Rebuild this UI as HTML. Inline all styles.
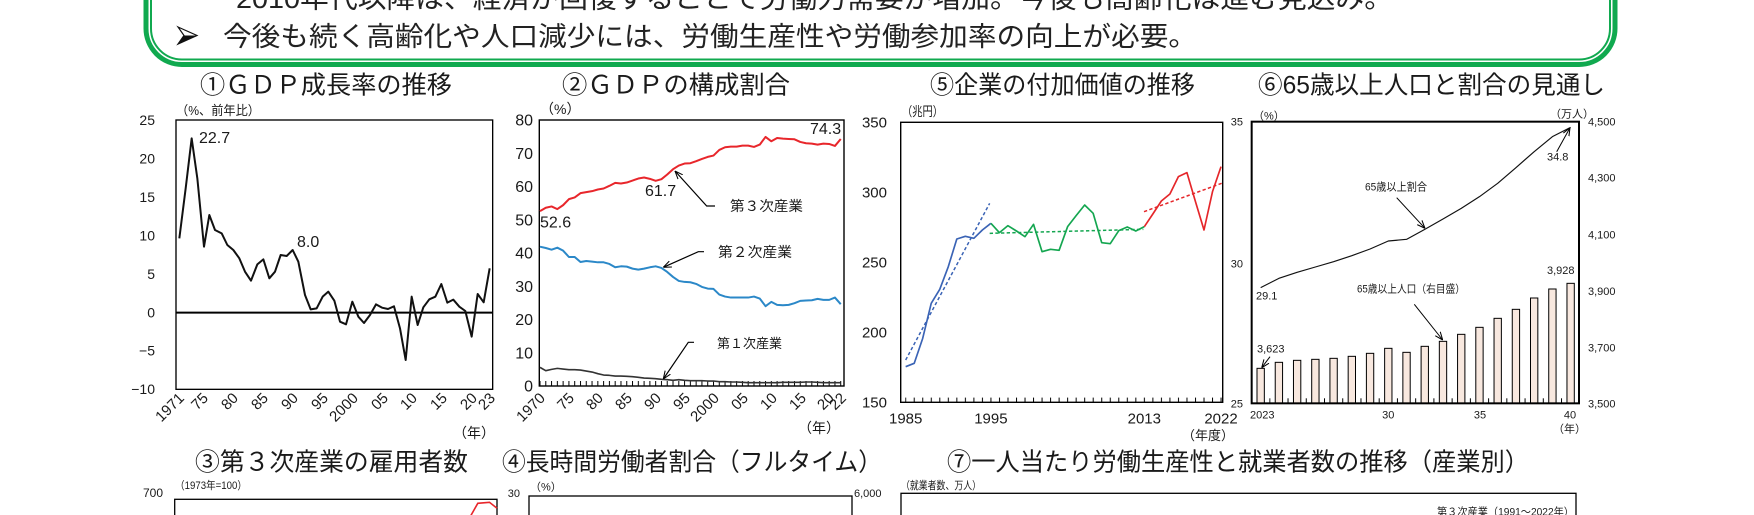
<!DOCTYPE html>
<html><head><meta charset="utf-8">
<style>
html,body{margin:0;padding:0;background:#fff;width:1754px;height:515px;overflow:hidden}
svg{display:block}
text{font-family:"Liberation Sans","Noto Sans CJK JP",sans-serif;fill:#1a1a1a}
</style></head><body>
<svg width="1754" height="515" viewBox="0 0 1754 515" xmlns="http://www.w3.org/2000/svg">
<defs>
<marker id="ah" viewBox="0 0 10 10" refX="10" refY="5" markerWidth="8" markerHeight="8" markerUnits="userSpaceOnUse" orient="auto"><path d="M0,1 L10,5 L0,9" fill="none" stroke="#000" stroke-width="1.3"/></marker>
<pattern id="tk2" x="539.5" y="0" width="5.78333" height="10" patternUnits="userSpaceOnUse"><rect x="0" y="0" width="1" height="10" fill="#000"/></pattern>
<pattern id="tk5" x="905.2" y="0" width="8.5233" height="10" patternUnits="userSpaceOnUse"><rect x="0" y="0" width="1" height="10" fill="#000"/></pattern>
<pattern id="tk6" x="1269.3" y="0" width="18.2333" height="10" patternUnits="userSpaceOnUse"><rect x="0" y="0" width="1" height="10" fill="#000"/></pattern>
</defs>

<!-- green box -->
<rect x="146" y="-100" width="1469" height="164.5" rx="36" fill="none" stroke="#10a94f" stroke-width="5"/>
<rect x="151" y="-100" width="1459" height="159.5" rx="31" fill="none" stroke="#10a94f" stroke-width="2"/>

<text x="236" y="8" font-size="27" textLength="1157" lengthAdjust="spacingAndGlyphs" style="fill:#222">2010年代以降は、経済が回復することで労働力需要が増加。今後も高齢化は進む見込み。</text>
<path d="M178,27 L197,35.5 L178,44 L184,35.5 Z" fill="#fff" stroke="#111" stroke-width="1.2"/>
<path d="M184,35.5 L197,35.5 L178,44 Z" fill="#111"/>
<text x="223" y="46" font-size="27" textLength="974" lengthAdjust="spacingAndGlyphs" style="fill:#222">今後も続く高齢化や人口減少には、労働生産性や労働参加率の向上が必要。</text>

<!-- titles -->
<text x="200" y="93.5" font-size="25" textLength="252" lengthAdjust="spacingAndGlyphs">①ＧＤＰ成長率の推移</text>
<text x="562" y="93.5" font-size="25" textLength="228" lengthAdjust="spacingAndGlyphs">②ＧＤＰの構成割合</text>
<text x="930" y="93.5" font-size="25" textLength="265" lengthAdjust="spacingAndGlyphs">⑤企業の付加価値の推移</text>
<text x="1258" y="93.5" font-size="25" textLength="347" lengthAdjust="spacingAndGlyphs">⑥65歳以上人口と割合の見通し</text>
<text x="195" y="470.5" font-size="25" textLength="273" lengthAdjust="spacingAndGlyphs">③第３次産業の雇用者数</text>
<text x="502" y="470.5" font-size="25" textLength="380" lengthAdjust="spacingAndGlyphs">④長時間労働者割合（フルタイム）</text>
<text x="947" y="470.5" font-size="25" textLength="582" lengthAdjust="spacingAndGlyphs">⑦一人当たり労働生産性と就業者数の推移（産業別）</text>

<!-- ===== Chart 1 ===== -->
<g transform="translate(140,95) scale(0.333333)">
<rect x="108" y="75" width="950" height="808" fill="none" stroke="#000" stroke-width="4"/>
<line x1="108" y1="653" x2="1058" y2="653" stroke="#000" stroke-width="6"/>
<polyline fill="none" stroke="#111" stroke-width="6" stroke-linejoin="round" points="118,430 137,280 155,130 172,250 192,455 208,360 225,405 245,415 262,450 280,465 298,490 315,530 333,557 352,508 370,493 388,550 405,530 422,480 440,483 458,465 475,500 495,600 512,643 530,640 548,605 565,590 583,617 600,680 618,688 637,620 655,665 672,684 690,660 708,628 726,638 744,642 762,634 780,700 797,795 815,605 833,690 850,637 868,613 886,605 904,567 922,623 940,614 958,635 976,648 995,725 1013,597 1031,622 1049,520"/>
</g>
<g font-size="14" text-anchor="end">
<text x="155" y="125">25</text><text x="155" y="163.5">20</text><text x="155" y="202">15</text><text x="155" y="240.4">10</text><text x="155" y="278.8">5</text><text x="155" y="317.3">0</text><text x="155" y="355.7">−5</text><text x="155" y="394">−10</text>
</g>
<text x="176" y="115" font-size="13" textLength="84" lengthAdjust="spacingAndGlyphs">（%、前年比）</text>
<text x="199" y="143" font-size="16">22.7</text>
<text x="297" y="247" font-size="16">8.0</text>
<g font-size="15" text-anchor="end">
<text transform="translate(185,399) rotate(-45)">1971</text>
<text transform="translate(209,399) rotate(-45)">75</text>
<text transform="translate(239,399) rotate(-45)">80</text>
<text transform="translate(269,399) rotate(-45)">85</text>
<text transform="translate(299,399) rotate(-45)">90</text>
<text transform="translate(329,399) rotate(-45)">95</text>
<text transform="translate(359,399) rotate(-45)">2000</text>
<text transform="translate(389,399) rotate(-45)">05</text>
<text transform="translate(418,399) rotate(-45)">10</text>
<text transform="translate(448,399) rotate(-45)">15</text>
<text transform="translate(478,399) rotate(-45)">20</text>
<text transform="translate(496,399) rotate(-45)">23</text>
</g>
<text x="495" y="438" font-size="14" text-anchor="end">（年）</text>

<!-- ===== Chart 2 ===== -->
<rect x="539.3" y="120" width="304.7" height="266" fill="none" stroke="#000" stroke-width="1.4"/>
<rect x="539.5" y="381" width="304" height="5" fill="url(#tk2)"/>
<g transform="translate(540,386) scale(5.78333,-3.325)" fill="none" stroke-linejoin="round">
<polyline vector-effect="non-scaling-stroke" stroke="#e8262b" stroke-width="2" points="0,52.6 1,53.6 2,54 3,53.2 4,54.4 5,56.2 6,56.7 7,58 8,58.3 9,58.6 10,59.1 11,59.4 12,60.2 13,61.1 14,60.9 15,61.2 16,61.8 17,62.4 18,62.7 19,62.3 20,61.7 21,62.2 22,63.6 23,65.2 24,66.3 25,66.9 26,67 27,67.6 28,68.3 29,68.9 30,69.3 31,71 32,71.8 33,72 34,72 35,72.3 36,72.3 37,71.9 38,72.6 39,74.9 40,73.6 41,74.6 42,74.4 43,74.3 44,74.2 45,73.4 46,73 47,72.9 48,72.6 49,72.9 50,72.8 51,72.2 52,74.3"/>
<polyline vector-effect="non-scaling-stroke" stroke="#2b88c8" stroke-width="2" points="0,41.9 1,41.5 2,41 3,41.6 4,40.7 5,38.8 6,38.8 7,37.3 8,37.6 9,37.4 10,37.2 11,37.2 12,36.7 13,35.7 14,36 15,35.9 16,35.3 17,35 18,35.3 19,35.7 20,36 21,35.5 22,34.3 23,32.8 24,31.6 25,31.3 26,31.2 27,30.7 28,29.8 29,29.3 30,29.2 31,27.5 32,26.9 33,26.6 34,26.6 35,26.6 36,26.6 37,26.9 38,26.3 39,24 40,25.3 41,24.4 42,24.3 43,24.4 44,24.9 45,25.6 46,25.7 47,25.8 48,26.2 49,25.9 50,25.9 51,26.6 52,24.6"/>
<polyline vector-effect="non-scaling-stroke" stroke="#333" stroke-width="1.6" points="0,5.6 1,4.6 2,5 3,5.3 4,5.1 5,4.9 6,4.9 7,4.8 8,4.5 9,4.2 10,3.7 11,3.3 12,3.2 13,3 14,3 15,2.9 16,2.8 17,2.6 18,2.4 19,2.3 20,2.2 21,2 22,1.9 23,1.7 24,1.9 25,1.7 26,1.6 27,1.6 28,1.6 29,1.5 30,1.5 31,1.3 32,1.3 33,1.2 34,1.2 35,1.1 36,1 37,1 38,1 39,1 40,1 41,1 42,1.1 43,1.1 44,1.1 45,1.1 46,1.2 47,1.2 48,1.1 49,1 50,1 51,1 52,1"/>
</g>
<g font-size="16" text-anchor="end">
<text x="533" y="125.5">80</text><text x="533" y="158.8">70</text><text x="533" y="192">60</text><text x="533" y="225.3">50</text><text x="533" y="258.5">40</text><text x="533" y="291.8">30</text><text x="533" y="325">20</text><text x="533" y="358.3">10</text><text x="533" y="391.5">0</text>
</g>
<text x="540" y="114" font-size="14">（%）</text>
<text x="810" y="134" font-size="16">74.3</text>
<text x="540" y="227.5" font-size="16">52.6</text>
<text x="645" y="196" font-size="16">61.7</text>
<text x="730" y="211" font-size="14" textLength="73" lengthAdjust="spacingAndGlyphs">第３次産業</text>
<text x="718" y="257" font-size="14" textLength="74" lengthAdjust="spacingAndGlyphs">第２次産業</text>
<text x="717" y="348" font-size="13" textLength="65" lengthAdjust="spacingAndGlyphs">第１次産業</text>
<g fill="none" stroke="#000" stroke-width="1.2" marker-end="url(#ah)">
<polyline points="715,206 706.7,206 675,171"/>
<polyline points="704,251.7 698.3,251.7 663.3,267.3"/>
<polyline points="694,342.3 688.3,342.3 663.3,379"/>
</g>
<g font-size="15" text-anchor="end">
<text transform="translate(546,399) rotate(-45)">1970</text>
<text transform="translate(575,399) rotate(-45)">75</text>
<text transform="translate(604,399) rotate(-45)">80</text>
<text transform="translate(633,399) rotate(-45)">85</text>
<text transform="translate(662,399) rotate(-45)">90</text>
<text transform="translate(691,399) rotate(-45)">95</text>
<text transform="translate(720,399) rotate(-45)">2000</text>
<text transform="translate(749,399) rotate(-45)">05</text>
<text transform="translate(778,399) rotate(-45)">10</text>
<text transform="translate(807,399) rotate(-45)">15</text>
<text transform="translate(835,399) rotate(-45)">20</text>
<text transform="translate(847,399) rotate(-45)">22</text>
</g>
<text x="840" y="433" font-size="14" text-anchor="end">（年）</text>

<!-- ===== Chart 5 ===== -->
<rect x="900.7" y="122.3" width="322" height="280" fill="none" stroke="#000" stroke-width="1.4"/>
<rect x="905.2" y="397.6" width="317" height="4.7" fill="url(#tk5)"/>
<g transform="translate(860,95) scale(0.333333)" fill="none" stroke-linejoin="round">
<line x1="137" y1="795" x2="389" y2="325" stroke="#3a63b5" stroke-width="4.5" stroke-dasharray="10,7"/>
<line x1="389" y1="415" x2="850" y2="403" stroke="#14a650" stroke-width="4.5" stroke-dasharray="10,7"/>
<line x1="852" y1="350" x2="1085" y2="265" stroke="#e5262a" stroke-width="4.5" stroke-dasharray="10,7"/>
<polyline stroke="#3a63b5" stroke-width="5" points="137,815 162.6,805 188.1,730 213.7,625 239.3,583 264.9,515 290.4,432 316,424 341.6,430 367.1,405 392.7,385"/>
<polyline stroke="#14a650" stroke-width="5" points="392.7,385 418.3,413 443.8,392 469.4,408 495,425 520.6,388 546.1,470 571.7,463 597.3,466 622.8,395 648.4,362 674,330 699.5,355 725.1,443 750.7,446 776.3,407 801.8,396 827.4,408 853,395"/>
<polyline stroke="#e5262a" stroke-width="5" points="853,395 878.5,357 904.1,318 929.7,297 955.2,245 980.8,233 1006.4,320 1032,405 1057.5,290 1083.1,215"/>
</g>
<g font-size="15" text-anchor="end">
<text x="887" y="127.5">350</text><text x="887" y="197.5">300</text><text x="887" y="267.5">250</text><text x="887" y="337.5">200</text><text x="887" y="407.5">150</text>
</g>
<text x="902" y="116" font-size="13" textLength="41" lengthAdjust="spacingAndGlyphs">（兆円）</text>
<g font-size="15" text-anchor="middle">
<text x="905.7" y="423.5">1985</text><text x="990.9" y="423.5">1995</text><text x="1144.3" y="423.5">2013</text><text x="1221" y="423.5">2022</text>
</g>
<text x="1234" y="440" font-size="13" text-anchor="end">（年度）</text>

<!-- ===== Chart 6 ===== -->
<g transform="translate(1230,95) scale(0.333333)">
<g fill="#f8e8df" stroke="#000" stroke-width="3">
<rect x="81" y="820" width="22" height="105"/>
<rect x="135.7" y="802" width="22" height="123"/>
<rect x="190.4" y="796" width="22" height="129"/>
<rect x="245.1" y="793" width="22" height="132"/>
<rect x="299.8" y="790" width="22" height="135"/>
<rect x="354.5" y="784" width="22" height="141"/>
<rect x="409.2" y="775" width="22" height="150"/>
<rect x="463.9" y="760" width="22" height="165"/>
<rect x="518.6" y="772" width="22" height="153"/>
<rect x="573.3" y="754" width="22" height="171"/>
<rect x="628" y="739" width="22" height="186"/>
<rect x="682.7" y="718" width="22" height="207"/>
<rect x="737.4" y="697" width="22" height="228"/>
<rect x="792.1" y="670" width="22" height="255"/>
<rect x="846.8" y="643" width="22" height="282"/>
<rect x="901.5" y="609" width="22" height="316"/>
<rect x="956.2" y="582" width="22" height="343"/>
<rect x="1010.9" y="565" width="22" height="360"/>
</g>
<polyline fill="none" stroke="#111" stroke-width="3.5" stroke-linejoin="round" points="92,578 146.7,550 201.4,532 256.1,516 310.8,500 365.5,482 420.2,462 474.9,438 529.6,433 584.3,403 639,372 693.7,340 748.4,305 803.1,265 857.8,218 912.5,170 967.2,125 1021.9,97"/>
<rect x="65" y="80" width="982" height="845" fill="none" stroke="#000" stroke-width="6"/>
</g>
<rect x="1269.3" y="398.3" width="300" height="5" fill="url(#tk6)"/>
<g font-size="11">
<text x="1253" y="119.7">（%）</text>
<text x="1550" y="117.3">（万人）</text>
<g text-anchor="end"><text x="1243" y="125.7">35</text><text x="1243" y="267.3">30</text><text x="1243" y="407.3">25</text></g>
<text x="1588" y="125.7">4,500</text><text x="1588" y="181.7">4,300</text><text x="1588" y="238.3">4,100</text><text x="1588" y="295">3,900</text><text x="1588" y="351.3">3,700</text><text x="1588" y="407.3">3,500</text>
<text x="1250" y="418.3">2023</text>
<g text-anchor="middle"><text x="1388.3" y="418.3">30</text><text x="1480" y="418.3">35</text><text x="1570" y="418.3">40</text></g>
<text x="1553" y="432.3">（年）</text>
<text x="1256" y="299.7">29.1</text>
<text x="1547" y="160.7">34.8</text>
<text x="1365" y="190.7" textLength="62" lengthAdjust="spacingAndGlyphs">65歳以上割合</text>
<text x="1547" y="274">3,928</text>
<text x="1357" y="292.3" textLength="108" lengthAdjust="spacingAndGlyphs">65歳以上人口（右目盛）</text>
<text x="1257" y="352.3">3,623</text>
</g>
<g fill="none" stroke="#000" stroke-width="1" marker-end="url(#ah)">
<line x1="1556.7" y1="151.7" x2="1570" y2="127.7"/>
<line x1="1396.7" y1="197.7" x2="1425" y2="228.3"/>
<line x1="1414.3" y1="304.3" x2="1442.7" y2="340"/>
<line x1="1270" y1="356.7" x2="1261.7" y2="367.7"/>
</g>

<!-- ===== Bottom row (partial) ===== -->
<text x="175" y="489" font-size="11" textLength="72" lengthAdjust="spacingAndGlyphs">（1973年=100）</text>
<text x="163" y="497" font-size="12" text-anchor="end">700</text>
<rect x="174.7" y="499.3" width="322.3" height="40" fill="none" stroke="#000" stroke-width="1.3"/>
<polyline points="470.6,516 477.8,503.3 489.5,502.3 497,508.3" fill="none" stroke="#e8262b" stroke-width="1.6"/>

<text x="520" y="497" font-size="11" text-anchor="end">30</text>
<text x="530" y="490.5" font-size="11">（%）</text>
<rect x="529" y="496" width="323" height="40" fill="none" stroke="#000" stroke-width="1.3"/>

<text x="854" y="497" font-size="11">6,000</text>
<text x="901" y="489" font-size="11" textLength="80" lengthAdjust="spacingAndGlyphs">（就業者数、万人）</text>
<rect x="901" y="493.3" width="675" height="40" fill="none" stroke="#000" stroke-width="1.3"/>
<text x="1437" y="515.5" font-size="11" textLength="137" lengthAdjust="spacingAndGlyphs">第３次産業（1991～2022年）</text>
</svg>
</body></html>
